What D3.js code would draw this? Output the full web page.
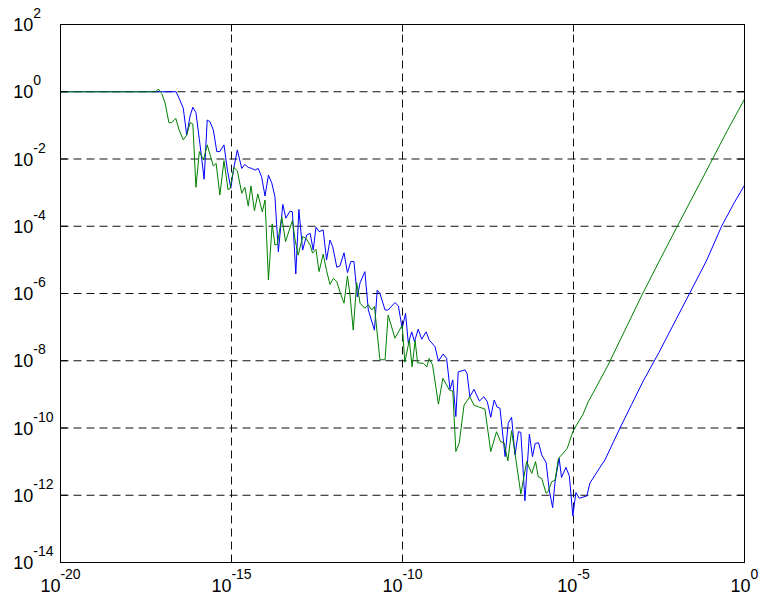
<!DOCTYPE html>
<html>
<head>
<meta charset="utf-8">
<script src="https://cdn.jsdelivr.net/npm/d3@7"></script>
<style>
  html, body { margin: 0; padding: 0; background: #fff; }
  svg { display: block; }
</style>
</head>
<body>
<svg id="chart" width="761" height="596"></svg>
<script>
// Decade exponents used for ticks and grid lines
const xTickPowers = [-20, -15, -10, -5, 0];
const yTickPowers = [2, 0, -2, -4, -6, -8, -10, -12, -14];

// Green series: log10 of step size and log10 of error
const greenLogStep = [
  -20, -17.21, -17.14, -17.04, -16.94, -16.83, -16.75, -16.63, -16.53, -16.41,
  -16.31, -16.21, -16.13, -16.04, -15.94, -15.82, -15.71, -15.53, -15.45, -15.34,
  -15.22, -15.10, -15.04, -14.93, -14.83, -14.70, -14.61, -14.51, -14.43, -14.33,
  -14.23, -14.10, -14.02,
  -13.92, -13.81, -13.73, -13.66, -13.53, -13.42, -13.22, -13.14, -13.05, -12.92,
  -12.82, -12.70, -12.63, -12.53, -12.44, -12.32, -12.22, -12.12, -12.02, -11.92,
  -11.83, -11.71, -11.61, -11.54, -11.44, -11.34, -11.24, -11.10, -11.00, -10.90,
  -10.82,
  -10.66, -10.51, -10.42, -10.22, -10.01, -9.93, -9.80, -9.72, -9.63, -9.56,
  -9.39, -9.29, -9.22, -9.12, -8.95, -8.82, -8.63, -8.53, -8.44, -8.34,
  -8.20, -8.03, -7.91, -7.78, -7.59,
  -7.42, -7.25, -7.13, -7.03, -6.92, -6.81, -6.71, -6.54, -6.37, -6.22,
  -6.11, -6.03, -5.93, -5.80, -5.74, -5.64, -5.54, -5.44, -5.30, -5.18,
  -5.02, -4.91, -4.73, -4.57, -4.37,
  -4.0, -3.5, -3.0, -2.5, -2.0, -1.5, -1.0, -0.5, 0
];
const greenLogError = [
  0, 0, 0.08, -0.05, -0.34, -0.92, -0.92, -0.79, -1.14, -1.43,
  -1.29, -0.92, -0.96, -2.84, -1.78, -2.03, -1.58, -2.21, -2.13, -3.07,
  -2.05, -2.92, -2.87, -2.25, -2.35, -3.02, -2.84, -3.40, -2.80, -3.54,
  -3.04, -3.57, -3.22,
  -5.60, -3.93, -4.56, -4.53, -3.72, -4.46, -3.83, -4.41, -4.86, -4.31,
  -4.36, -4.56, -4.80, -4.69, -5.35, -4.83, -5.32, -5.73, -5.55, -5.65,
  -5.95, -6.29, -5.48, -6.00, -7.09, -5.68, -6.29, -6.44, -6.34, -6.49,
  -6.39,
  -7.97, -7.97, -6.64, -7.33, -6.94, -8.04, -7.38, -8.18, -7.40, -8.06,
  -8.08, -8.18, -7.93, -8.13, -9.29, -8.52, -8.87, -8.90, -10.70, -10.44,
  -9.32, -9.07, -9.32, -9.37, -9.44,
  -10.70, -10.11, -10.41, -10.44, -10.98, -10.08, -10.76, -11.96, -11.00, -11.35,
  -11.00, -11.45, -11.50, -11.94, -11.89, -11.60, -11.55, -10.90, -10.75, -10.60,
  -10.11, -9.91, -9.61, -9.22, -8.85,
  -8.15, -7.10, -6.05, -5.05, -4.07, -3.10, -2.13, -1.15, -0.22
];

// Blue series: log10 of step size and log10 of error
const blueLogStep = [
  -20, -16.62, -16.53, -16.41, -16.31, -16.21, -16.13, -16.04, -15.92, -15.80,
  -15.71, -15.63, -15.53, -15.43, -15.34, -15.22, -15.12, -15.02, -14.93, -14.83,
  -14.70, -14.61, -14.51, -14.41, -14.31, -14.22, -14.12, -14.02, -13.92, -13.82,
  -13.73, -13.63, -13.50, -13.41, -13.29, -13.22, -13.12, -13.03, -12.92, -12.80,
  -12.70, -12.61, -12.53, -12.44, -12.32, -12.22, -12.12, -12.04, -11.92, -11.83,
  -11.71, -11.61, -11.51, -11.42, -11.32, -11.24, -11.10, -11.00, -10.82, -10.74,
  -10.66, -10.51, -10.42, -10.22, -10.12, -10.01, -9.91, -9.83, -9.73, -9.65,
  -9.54, -9.44, -9.31, -9.22, -9.05, -8.95, -8.81, -8.71, -8.61, -8.53,
  -8.44, -8.37, -8.17, -8.11, -8.03, -7.91, -7.75, -7.62, -7.52, -7.42,
  -7.32, -7.23, -7.15, -7.00, -6.91, -6.81, -6.71, -6.61, -6.54, -6.42,
  -6.29, -6.20, -6.12, -6.02, -5.93, -5.80, -5.71, -5.61, -5.54, -5.42,
  -5.35, -5.22, -5.12, -5.02, -4.93, -4.83, -4.61, -4.52, -4.37, -4.225,
  -4.08, -3.64, -3.3, -2.96, -2.5, -2.0, -1.5, -1.1, -0.67, -0.3,
  0
];
const blueLogError = [
  0, 0, -0.20, -0.49, -1.29, -0.72, -0.46, -0.62, -1.58, -2.60,
  -0.84, -0.89, -1.14, -1.78, -1.78, -1.58, -2.33, -2.87, -2.25, -1.73,
  -2.28, -2.16, -2.25, -2.28, -2.33, -2.28, -2.53, -3.10, -2.48, -2.72,
  -3.12, -4.76, -3.35, -3.76, -3.55, -3.57, -5.42, -3.50, -4.71, -4.26,
  -4.21, -4.71, -4.03, -4.16, -4.11, -5.00, -4.41, -4.61, -5.22, -5.18,
  -4.79, -5.38, -5.05, -5.05, -6.10, -5.68, -5.35, -6.49, -7.09, -5.90,
  -6.00, -6.49, -6.49, -6.27, -6.37, -7.04, -6.59, -7.48, -7.14, -7.43,
  -7.06, -7.36, -7.14, -7.38, -7.58, -8.01, -7.80, -7.93, -8.85, -8.57,
  -9.66, -8.33, -8.27, -8.39, -9.07, -8.85, -9.20, -9.07, -9.22, -9.68,
  -9.17, -9.38, -9.41, -10.85, -9.86, -9.68, -10.80, -10.11, -10.13, -12.16,
  -10.18, -10.85, -10.46, -10.44, -10.80, -11.03, -11.84, -12.37, -11.60, -10.90,
  -11.47, -11.17, -11.43, -12.62, -11.92, -12.09, -12.02, -11.64, -11.40, -11.17,
  -10.95, -10.00, -9.30, -8.60, -7.75, -6.77, -5.79, -5.00, -4.00, -3.30,
  -2.78
];

const plot = { left: 60.5, right: 744.5, top: 24.5, bottom: 562.5 };
const FONT = "'Liberation Sans', Arial, Helvetica, sans-serif";

const svg = d3.select("#chart");

const x = d3.scaleLog().domain([1e-20, 1]).range([plot.left, plot.right]);
const y = d3.scaleLog().domain([1e-14, 1e2]).range([plot.bottom, plot.top]);

const pow10 = p => Math.pow(10, p);
const xTicks = xTickPowers.map(pow10);
const yTicks = yTickPowers.map(pow10);

// Dashed grid at the labelled decades
const grid = svg.append("g").attr("stroke", "#111").attr("stroke-width", 1)
  .attr("stroke-dasharray", "8,5").attr("fill", "none");
grid.selectAll("line.vx")
  .data(xTicks.slice(1, -1))
  .join("line").attr("class", "vx")
  .attr("x1", d => x(d)).attr("x2", d => x(d))
  .attr("y1", plot.bottom).attr("y2", plot.top);
grid.selectAll("line.hy")
  .data(yTicks.slice(1, -1))
  .join("line").attr("class", "hy")
  .attr("x1", plot.left).attr("x2", plot.right)
  .attr("y1", d => y(d)).attr("y2", d => y(d));

// Data lines
const line = d3.line().x(d => x(d[0])).y(d => y(d[1]));
const bluePts = blueLogStep.map((s, i) => [pow10(s), pow10(blueLogError[i])]);
const greenPts = greenLogStep.map((s, i) => [pow10(s), pow10(greenLogError[i])]);

svg.append("path").datum(bluePts)
  .attr("fill", "none").attr("stroke", "#0000ff").attr("stroke-width", 1)
  .attr("stroke-linejoin", "round").attr("d", line);
svg.append("path").datum(greenPts)
  .attr("fill", "none").attr("stroke", "#008000").attr("stroke-width", 1)
  .attr("stroke-linejoin", "round").attr("d", line);

// Axes with inward ticks on all four sides
function styleAxis(g) {
  g.select(".domain").remove();
  g.selectAll(".tick line").attr("stroke", "#000");
}
function powerLabel(text, p) {
  text.text(null);
  text.append("tspan").text("10");
  text.append("tspan").attr("dy", -13).attr("font-size", 14).text(String(p));
}

const gBottom = svg.append("g").attr("transform", `translate(0,${plot.bottom})`)
  .call(d3.axisBottom(x).tickValues(xTicks).tickSizeInner(-7).tickSizeOuter(0).offset(0).tickFormat(() => ""))
  .call(styleAxis);
gBottom.selectAll(".tick text")
  .attr("y", 29.5).attr("dy", null)
  .attr("font-family", FONT).attr("font-size", 18).attr("fill", "#000")
  .attr("text-anchor", "middle")
  .each(function(d) { powerLabel(d3.select(this), Math.round(Math.log10(d))); });

const gLeft = svg.append("g").attr("transform", `translate(${plot.left},0)`)
  .call(d3.axisLeft(y).tickValues(yTicks).tickSizeInner(-7).tickSizeOuter(0).offset(0).tickFormat(() => ""))
  .call(styleAxis);
gLeft.selectAll(".tick text")
  .attr("x", 13.3 - plot.left).attr("y", 6.5).attr("dy", null)
  .attr("font-family", FONT).attr("font-size", 18).attr("fill", "#000")
  .attr("text-anchor", "start")
  .each(function(d) { powerLabel(d3.select(this), Math.round(Math.log10(d))); });

svg.append("g").attr("transform", `translate(0,${plot.top})`)
  .call(d3.axisTop(x).tickValues(xTicks).tickSizeInner(-7).tickSizeOuter(0).offset(0).tickFormat(() => ""))
  .call(styleAxis);
svg.append("g").attr("transform", `translate(${plot.right},0)`)
  .call(d3.axisRight(y).tickValues(yTicks).tickSizeInner(-7).tickSizeOuter(0).offset(0).tickFormat(() => ""))
  .call(styleAxis);

// Plot box
svg.append("rect")
  .attr("x", plot.left).attr("y", plot.top)
  .attr("width", plot.right - plot.left).attr("height", plot.bottom - plot.top)
  .attr("fill", "none").attr("stroke", "#000").attr("stroke-width", 1);
</script>
</body>
</html>
